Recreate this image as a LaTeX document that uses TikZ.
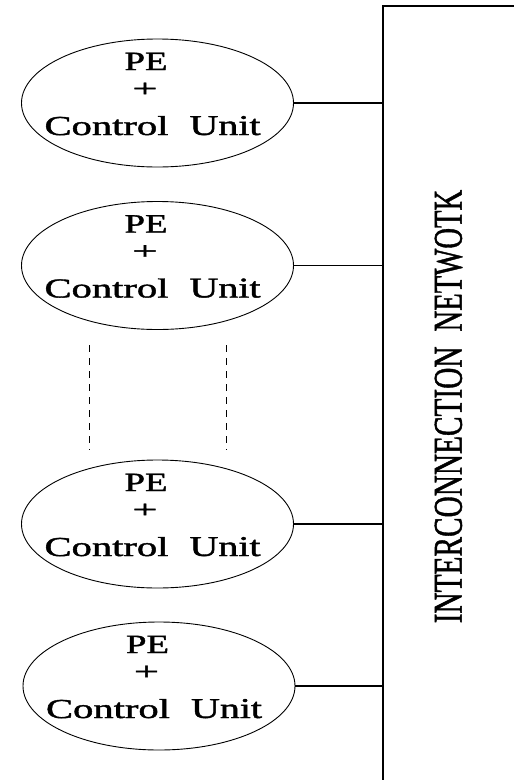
\documentclass[tikz,border=0pt]{standalone}
\usepackage{fontspec}
\setmainfont{Liberation Serif}
\newfontfamily\labelfont{Liberation Serif}[FakeBold=1.3]
\usetikzlibrary{shapes.geometric,calc}

\begin{document}
\begin{tikzpicture}[x=1pt,y=-1pt,
  pe/.style={draw, ellipse, line width=0.9pt, minimum width=272pt, minimum height=128pt, inner sep=0pt, outer sep=0pt},
  lbl/.style={inner sep=0pt, outer sep=0pt, font=\labelfont},
  link/.style={line width=1.3pt},
  frame/.style={draw, line width=2pt, inner sep=0pt, outer sep=0pt, anchor=north west,
    minimum width=200pt, minimum height=820pt},
  dots/.style={line width=1pt, dash pattern=on 7pt off 6pt}]
  \useasboundingbox (0,0) rectangle (514,780);
  \clip (0,0) rectangle (514,780);

  % interconnection network: a tall box running past the right and lower edges
  \node[frame] (net) at (383,6) {};
  \node[lbl, rotate=90] (nettext) at (448.5,406.5)
    {\resizebox{276.7pt}{27pt}{INTERCONNECTION}\hspace{15pt}\resizebox{141.7pt}{27pt}{NETWOTK}};

  % processing elements with their control units
  \foreach \n/\x/\y in {1/157.5/103, 2/157.5/265.5, 3/157.5/524, 4/159/686} {
    \node[pe] (e\n) at (\x,\y) {};
    \node[lbl] (pe\n) at ($(e\n)+(-11.5,-41.6)$) {\resizebox{43pt}{17.3pt}{PE}};
    \node[lbl] (plus\n) at ($(e\n)+(-12.5,-13.3)$) {\resizebox{25pt}{14pt}{+}};
    \node[lbl, anchor=base west] (cu\n) at ($(e\n)+(-113,32)$)
      {\resizebox{124pt}{19pt}{Control}\hspace{21pt}\resizebox{71pt}{19pt}{Unit}};
    \draw[link] (e\n.east) -- (e\n.east -| net.west);
  }

  % elision marks between the second and third elements
  \coordinate (da1) at (89,345);
  \coordinate (db1) at (89,450);
  \coordinate (da2) at (226,345);
  \coordinate (db2) at (226,450);
  \draw[dots] (da1) -- (db1);
  \draw[dots] (da2) -- (db2);
\end{tikzpicture}
\end{document}
